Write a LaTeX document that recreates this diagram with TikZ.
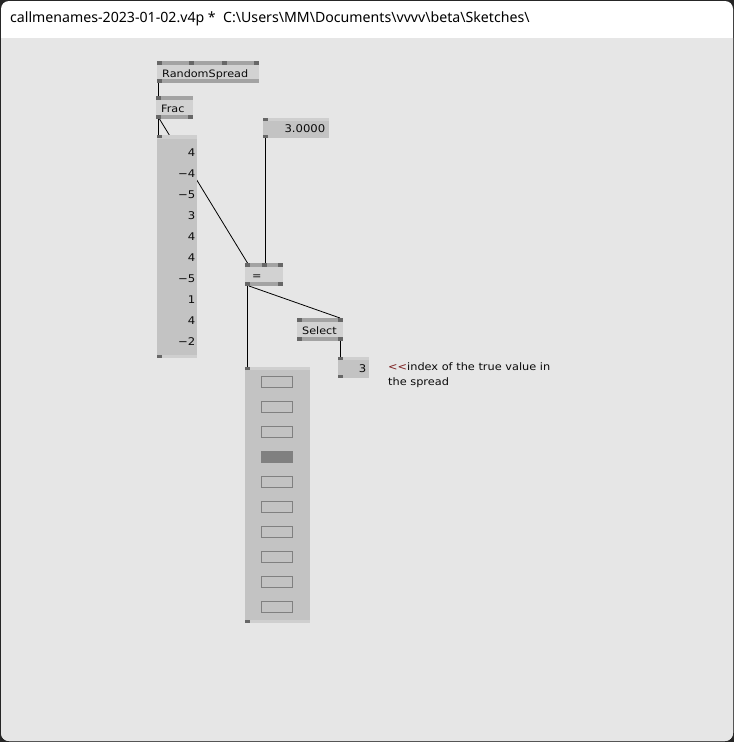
\documentclass[tikz,border=0pt]{standalone}
\usepackage{fontspec}
\setmainfont{DejaVu Sans}
\newfontfamily\nodefont{DejaVu Sans}[FakeStretch=1.1]
\newfontfamily\titlefont{Noto Sans}
\usetikzlibrary{calc}
\pgfdeclarelayer{back}
\pgfdeclarelayer{links}
\pgfsetlayers{back,links,main}
\definecolor{winbg}{HTML}{E6E6E6}
\definecolor{frame}{HTML}{262626}
\definecolor{nodebody}{HTML}{D2D2D2}
\definecolor{nodebar}{HTML}{A3A3A3}
\definecolor{pincol}{HTML}{676767}
\definecolor{iobody}{HTML}{C3C3C3}
\definecolor{iostrip}{HTML}{CFCFCF}
\definecolor{togcol}{HTML}{808080}
\definecolor{txt}{HTML}{0A0A0A}
\definecolor{commred}{HTML}{7A1E1E}
\tikzset{
  vbox/.style={rectangle, fill=nodebody, inner xsep=5pt, inner ysep=0pt, anchor=north west, text=txt, text height=10pt, text depth=0pt, font=\nodefont\fontsize{10.2}{12}\selectfont},
  iobox/.style={rectangle, fill=iobody, inner sep=0pt, anchor=north west},
  iotext/.style={inner sep=0pt, text=txt, font=\nodefont\fontsize{10.6}{12}\selectfont},
  vbar/.style={fill=nodebar},
  vstrip/.style={fill=iostrip},
  vpin/.style={fill=pincol},
  link/.style={draw=black, line width=0.9pt},
  toggle/.style={draw=togcol, line width=1pt},
  toggleon/.style={fill=togcol},
  comment/.style={inner sep=0pt, anchor=west, text=txt, font=\nodefont\fontsize{10.3}{12}\selectfont},
}
\begin{document}
\begin{tikzpicture}[x=1pt,y=-1pt]
\useasboundingbox (0,0) rectangle (734,742);
\begin{pgfonlayer}{back}
  \fill[frame] (0,0) rectangle (734,742);
  \fill[white, rounded corners=8pt] (1,1) rectangle (733,741);
  \begin{scope}
    \clip[rounded corners=8pt] (1,1) rectangle (733,741);
    \fill[winbg] (0,38) rectangle (734,742);
  \end{scope}
  \node[anchor=west, inner sep=0pt, text=black, font=\titlefont\fontsize{14.15}{16}\selectfont] (title) at (10,19)
    {callmenames-2023-01-02.v4p *\ \ C:\textbackslash Users\textbackslash MM\textbackslash Documents\textbackslash vvvv\textbackslash beta\textbackslash Sketches\textbackslash};
\end{pgfonlayer}

% ---------- RandomSpread ----------
\node[vbox, minimum width=102pt, minimum height=22pt, text width=92pt, align=left] (rs) at (157,61) {RandomSpread};
\fill[vbar] (157,61) rectangle (259,65);
\fill[vbar] (157,79) rectangle (259,83);
\foreach \px in {157,189,222,254} \fill[vpin] (\px,61) rectangle ++(5,4);
\fill[vpin] (157,79) rectangle ++(5,4);
\coordinate (rs-out) at (158.5,83);

% ---------- Frac ----------
\node[vbox, minimum width=37pt, minimum height=23pt, text width=27pt, align=left] (frac) at (156,96) {Frac};
\fill[vbar] (156,96) rectangle (193,100);
\fill[vbar] (156,115) rectangle (193,119);
\fill[vpin] (156,96) rectangle ++(5,4);
\fill[vpin] (156,115) rectangle ++(5,4);
\fill[vpin] (188,115) rectangle ++(5,4);
\coordinate (frac-in) at (158.5,96);
\coordinate (frac-out) at (158.5,119);
\coordinate (frac-outd) at (159.5,119);

% ---------- spread IOBox ----------
\node[iobox, minimum width=40pt, minimum height=223pt] (spread) at (157,135) {};
\fill[vstrip] (157,135) rectangle (197,139);
\fill[vstrip] (157,355) rectangle (197,358);
\fill[vpin] (157,135) rectangle ++(5,3);
\fill[vpin] (157,355) rectangle ++(5,3);
\coordinate (spread-in) at (158.5,135);
\foreach \v [count=\i] in {4,−4,−5,3,4,4,−5,1,4,−2}
  \node[iotext, anchor=east] (sv\i) at (195.5,{131.7+21*\i}) {\v};

% ---------- 3.0000 IOBox ----------
\node[iobox, minimum width=66pt, minimum height=20pt] (val) at (263,118) {};
\fill[vstrip] (263,118) rectangle (329,121);
\fill[vpin] (263,118) rectangle ++(5,3);
\fill[vpin] (263,135) rectangle ++(5,3);
\node[iotext, anchor=east] (valt) at (325.5,128.5) {3.0000};
\coordinate (val-out) at (265,138);

% ---------- = ----------
\node[vbox, minimum width=38pt, minimum height=23pt, text width=28pt, align=left, inner xsep=5pt] (eq) at (245,263) {\hspace{2pt}=};
\fill[vbar] (245,263) rectangle (283,267);
\fill[vbar] (245,282) rectangle (283,286);
\foreach \px in {245,262,278} \fill[vpin] (\px,263) rectangle ++(5,4);
\foreach \px in {245,278} \fill[vpin] (\px,282) rectangle ++(5,4);
\coordinate (eq-in1) at (247.5,263);
\coordinate (eq-in2) at (265,263);
\coordinate (eq-out) at (247,286);
\coordinate (eq-outd) at (249,286);

% ---------- Select ----------
\node[vbox, minimum width=46pt, minimum height=23pt, text width=36pt, align=left] (sel) at (297,318) {Select};
\fill[vbar] (297,318) rectangle (343,322);
\fill[vbar] (297,337) rectangle (343,341);
\foreach \px in {297,338} \fill[vpin] (\px,318) rectangle ++(5,4);
\foreach \px in {297,338} \fill[vpin] (\px,337) rectangle ++(5,4);
\coordinate (sel-in2) at (340,318);
\coordinate (sel-out2) at (340.5,341);

% ---------- 3 IOBox ----------
\node[iobox, minimum width=31pt, minimum height=21pt] (idx) at (338,357) {};
\fill[vstrip] (338,357) rectangle (369,360);
\fill[vpin] (338,357) rectangle ++(5,3);
\fill[vpin] (338,375) rectangle ++(5,3);
\node[iotext, anchor=east] (idxt) at (366.5,368.5) {3};
\coordinate (idx-in) at (340.5,357);

% ---------- comment ----------
\node[comment] (c1) at (388,367) {\textcolor{commred}{<{}<}index of the true value in};
\node[comment] (c2) at (388,383) {the spread};

% ---------- toggle IOBox ----------
\node[iobox, minimum width=65pt, minimum height=256pt] (tog) at (245,367) {};
\fill[vstrip] (245,367) rectangle (310,370);
\fill[vstrip] (245,620) rectangle (310,623);
\fill[vpin] (245,367) rectangle ++(5,3);
\fill[vpin] (245,620) rectangle ++(5,3);
\coordinate (tog-in) at (247,367);
\foreach \k in {0,...,9} {
  \ifnum\k=3
    \fill[toggleon] (261,{376+25*\k}) rectangle (293,{388+25*\k});
  \else
    \draw[toggle] (261.5,{376.5+25*\k}) rectangle (292.5,{387.5+25*\k});
  \fi
}

% ---------- links ----------
\begin{pgfonlayer}{links}
  \draw[link] (rs-out) -- (frac-in);
  \draw[link] (frac-out) -- (spread-in);
  \draw[link, line width=0.8pt] (frac-outd) -- (eq-in1);
  \draw[link] (val-out) -- (eq-in2);
  \draw[link] (eq-out) -- (tog-in);
  \draw[link, line width=0.8pt] (eq-outd) -- (sel-in2);
  \draw[link] (sel-out2) -- (idx-in);
\end{pgfonlayer}
\end{tikzpicture}
\end{document}
